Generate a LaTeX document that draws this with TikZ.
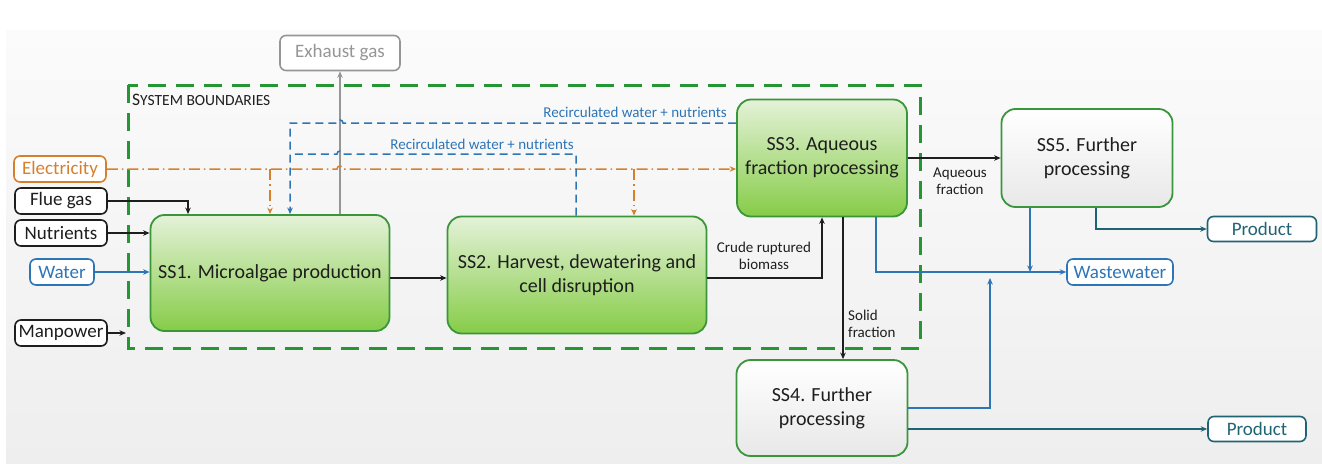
\documentclass[tikz,border=0pt]{standalone}
\usepackage{fontspec}
\setmainfont{Carlito}
\usetikzlibrary{arrows.meta}

\definecolor{bgtop}{RGB}{251,251,251}
\definecolor{bgbot}{RGB}{238,238,238}
\definecolor{boxgreen}{RGB}{58,150,58}
\definecolor{greentop}{RGB}{228,242,216}
\definecolor{greenbot}{RGB}{134,204,72}
\definecolor{greybot}{RGB}{232,232,232}
\definecolor{sysgreen}{RGB}{38,150,52}
\definecolor{elecorange}{RGB}{214,128,46}
\definecolor{waterblue}{RGB}{46,117,182}
\definecolor{prodteal}{RGB}{32,100,116}
\definecolor{exhgrey}{RGB}{150,150,150}
\definecolor{ink}{RGB}{30,30,30}

\begin{document}
\begin{tikzpicture}[x=1pt,y=-1pt,
  tip/.style={-{Stealth[length=6.5pt,width=5.5pt]}},
  ssbox/.style={draw=boxgreen, line width=1.8pt, rounded corners=14pt,
    top color=greentop, bottom color=greenbot, text=ink, align=center,
    inner sep=0pt, font=\fontsize{20}{24}\selectfont},
  furtherbox/.style={ssbox, top color=white, bottom color=greybot},
  inbox/.style={draw, line width=1.6pt, rounded corners=6pt, fill=white,
    inner sep=0pt, minimum height=26pt, font=\fontsize{19}{22}\selectfont},
  smalllabel/.style={font=\fontsize{15}{17.5}\selectfont, text=ink, inner sep=0pt},
  flow/.style={tip, draw=ink, line width=1.2pt},
  blueflow/.style={tip, draw=waterblue, line width=1.7pt},
  tealflow/.style={tip, draw=prodteal, line width=1.7pt},
  elecflow/.style={draw=elecorange, line width=1.5pt,
    dash pattern=on 11pt off 4pt on 1.5pt off 4pt},
  recirc/.style={draw=waterblue, line width=1.5pt, dash pattern=on 8pt off 5pt},
]
\useasboundingbox (0,0) rectangle (1322,463);
\fill[white] (0,0) rectangle (1322,463);
\shade[top color=bgtop, bottom color=bgbot] (6,30) rectangle (1322,463);

% system boundary
\draw[sysgreen, line width=3pt, dash pattern=on 18pt off 10pt] (128,85) rectangle (920,348);
\node[anchor=west, text=ink, inner sep=0pt] (sysname) at (132,100)
  {{\fontsize{17.5}{17.5}\selectfont S}{\fontsize{15.5}{15.5}\selectfont YSTEM BOUNDARIES}};

% subsystems
\node[ssbox, minimum width=239pt, minimum height=116pt] (ss1) at (270,273) {SS1. Microalgae production};
\node[ssbox, minimum width=259pt, minimum height=117pt] (ss2) at (577,275) {SS2. Harvest, dewatering and\\cell disruption};
\node[ssbox, minimum width=170pt, minimum height=117pt] (ss3) at (822,158) {SS3. Aqueous\\fraction processing};
\node[furtherbox, minimum width=171pt, minimum height=98pt] (ss5) at (1087,158) {SS5. Further\\processing};
\node[furtherbox, minimum width=171pt, minimum height=96pt] (ss4) at (822,408) {SS4. Further\\processing};

% inputs and outputs
\node[inbox, draw=exhgrey, text=exhgrey, minimum width=120pt, minimum height=35pt] (exh) at (340,53) {Exhaust gas};
\node[inbox, draw=elecorange, text=elecorange, minimum width=92pt] (elec) at (60,169) {Electricity};
\node[inbox, draw=ink, text=ink, minimum width=92pt] (flue) at (61,201) {Flue gas};
\node[inbox, draw=ink, text=ink, minimum width=92pt] (nutr) at (61,233) {Nutrients};
\node[inbox, draw=waterblue, text=waterblue, minimum width=64pt] (water) at (62,272) {Water};
\node[inbox, draw=ink, text=ink, minimum width=92pt] (manp) at (61,333) {Manpower};
\node[inbox, draw=prodteal, text=prodteal, minimum width=109pt, minimum height=25pt] (prod1) at (1262,229) {Product};
\node[inbox, draw=waterblue, text=waterblue, minimum width=106pt] (waste) at (1120,272) {Wastewater};
\node[inbox, draw=prodteal, text=prodteal, minimum width=98pt, minimum height=25pt] (prod2) at (1257,429) {Product};

% exhaust gas leaving SS1
\draw[tip, draw=exhgrey, line width=1.4pt] (ss1.north -| exh.south) -- (exh.south);

% inputs to SS1
\draw[flow] (flue.east) -| (ss1.north -| 188,0);
\draw[flow] (nutr.east) -- (nutr.east -| ss1.west);
\draw[blueflow] (water.east) -- (water.east -| ss1.west);
\coordinate (mp) at (126,333);
\draw[flow] (manp.east) -- (mp);

% electricity supply
\coordinate (e1) at (270,169);
\coordinate (e2) at (634,169);
\draw[elecflow, tip] (elec.east) -- (337,169) .. controls (337,165) and (343,165) .. (343,169)
  -- (ss3.west |- 0,169);
\draw[elecflow, tip] (e1) -- (ss1.north -| e1);
\draw[elecflow, tip] (e2) -- (ss2.north -| e2);

% recirculated water + nutrients
\coordinate (rj) at (290,154);
\draw[recirc, tip] (ss3.west |- 0,123) -- (343,123) .. controls (343,119) and (337,119) .. (337,123)
  -| (ss1.north -| rj);
\draw[recirc] (ss2.north -| 576,0) |- (343,154) .. controls (343,150) and (337,150) .. (337,154) -- (rj);
\node[smalllabel, text=waterblue, anchor=east] (rl1) at (727,112) {Recirculated water + nutrients};
\node[smalllabel, text=waterblue, anchor=east] (rl2) at (574,144) {Recirculated water + nutrients};

% main process chain
\draw[flow] (ss1.east |- 0,278) -- (ss2.west |- 0,278);
\draw[flow] (ss2.east |- 0,278) -| (ss3.south);
\node[smalllabel, align=center] (crude) at (764,256) {Crude ruptured\\biomass};
\draw[flow] (ss3.south -| 843,0) -- (ss4.north -| 843,0);
\node[smalllabel, align=left, anchor=west] (solid) at (848,324) {Solid\\fraction};
\draw[flow] (ss3.east) -- (ss5.west);
\node[smalllabel, align=center] (aq) at (960,181) {Aqueous\\fraction};

% outputs
\coordinate (w1) at (1030,272);
\coordinate (w2) at (990,278);
\draw[blueflow] (ss3.south -| 876,0) |- (waste.west);
\draw[blueflow] (ss5.south -| w1) -- (w1);
\draw[blueflow] (ss4.east |- 0,408) -| (w2);
\draw[tealflow] (ss5.south -| 1096,0) |- (prod1.west);
\draw[tealflow] (ss4.east |- 0,429) -- (prod2.west);
\end{tikzpicture}
\end{document}
